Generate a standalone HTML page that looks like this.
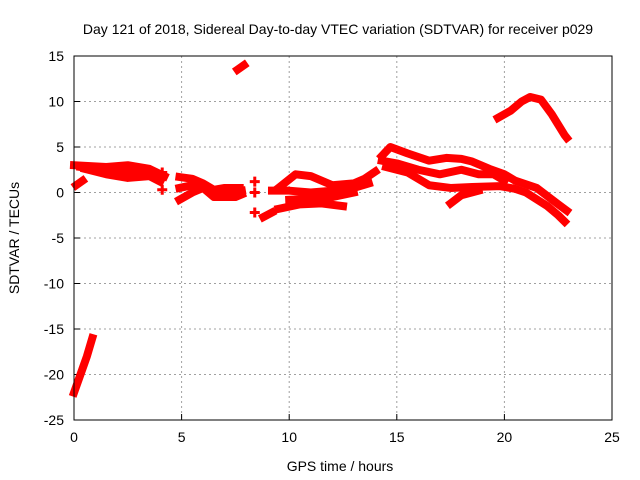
<!DOCTYPE html>
<html><head><meta charset="utf-8"><style>
body{margin:0;background:#fff}
svg{display:block;font-family:"Liberation Sans",sans-serif}
</style></head><body>
<svg id="c" width="640" height="480" xmlns="http://www.w3.org/2000/svg"></svg>
<script>
const xTicks=[0,5,10,15,20,25];
const yTicks=[-25,-20,-15,-10,-5,0,5,10,15];
const trackSteep=[[0,-22],[0.3,-20],[0.6,-18],[0.85,-16]];
const trackSmall=[[0.1,0.8],[0.4,1.3]];
const trackEarlyUpper=[[0,3],[1.5,2.8],[2.5,3],[3.5,2.6],[4.2,1.8]];
const trackEarlyMid=[[0.3,2.8],[1.5,2.4],[2.5,2.3],[3.5,2.2],[4,1.6]];
const trackEarlyLower=[[0.5,2.6],[1.5,2],[2.5,1.6],[3.5,1.8],[4,1.2]];
const trackMidUpper=[[4.9,1.7],[5.5,1.5],[6,1],[6.5,0.3],[7,0.5],[7.7,0.5]];
const trackMidCenter=[[4.9,0.5],[5.5,0.8],[6,0.6],[6.5,0],[7.3,0],[7.8,0.2]];
const trackMidLower=[[4.9,-0.8],[5.5,0],[6,0.5],[6.5,-0.5],[7.5,-0.5],[7.8,-0.2]];
const trackHigh=[[7.6,13.5],[7.9,14]];
const trackDipA=[[8.8,-2.7],[9.2,-2.2]];
const track10Upper=[[9.5,0.5],[10.3,2],[11,1.8],[12,0.8],[13,1],[13.5,1.5],[14,2.3]];
const track10Mid=[[9.2,0.2],[10,0.2],[11,0],[12,0.2],[13,0.5],[13.7,1]];
const track10Low=[[9.5,-1.8],[10.5,-1.3],[11.5,-1.2],[12.5,-1.5]];
const track10Low2=[[10,-0.8],[11,-0.7],[12,-0.5],[13,0]];
const track15Upper=[[14.3,4],[14.7,5],[15.5,4.3],[16.5,3.5],[17.3,3.8],[18,3.7],[18.5,3.4],[19.3,2.6],[20,2],[20.5,1.3],[21.5,0.5],[22.5,-1.3],[22.9,-2]];
const track15Mid=[[14.3,3.5],[15,3.2],[16,2.5],[17,2],[18,2.5],[18.8,2],[19.5,2],[20,1.3]];
const track15Low=[[14.5,2.8],[15.5,2.2],[16.5,0.8],[17.5,0.5],[18.5,0.6],[19.8,0.7],[20.5,0.4],[21,0],[22,-1.5],[22.5,-2.5],[22.8,-3.2]];
const track18Low=[[17.5,-1.2],[18,-0.3],[18.8,0.2]];
const trackArc=[[19.7,8.2],[20.3,9],[20.8,10],[21.2,10.5],[21.7,10.2],[22.2,8.6],[22.8,6.3],[22.9,6]];
const singles=[[4.1,2.2],[4.1,0.3],[8.4,1.2],[8.4,0],[8.4,-2.2]];
const tracks=[trackSteep,trackSmall,trackEarlyUpper,trackEarlyMid,trackEarlyLower,trackMidUpper,trackMidCenter,trackMidLower,trackHigh,trackDipA,track10Upper,track10Mid,track10Low,track10Low2,track15Upper,track15Mid,track15Low,track18Low,trackArc];

const L=74,R=612,T=56,B=420;
const X=h=>L+(h-0)/25*(R-L);
const Y=v=>T+(15-v)/40*(B-T);
const s=document.getElementById('c');
const NS='http://www.w3.org/2000/svg';
function mk(tag,at,txt){const e=document.createElementNS(NS,tag);for(const k in at)e.setAttribute(k,at[k]);if(txt!==undefined)e.textContent=txt;s.appendChild(e);return e;}
mk('rect',{x:0,y:0,width:640,height:480,fill:'#fff'});
xTicks.forEach(t=>{
  if(t>0&&t<25){const g=mk('line',{x1:X(t),x2:X(t),y1:T,y2:B,stroke:'#a0a0a0','stroke-dasharray':'2,3'});
  
  }
  const tk=mk('line',{x1:X(t),x2:X(t),y1:B,y2:B-6,stroke:'#000'});
  
  
  const lb=mk('text',{x:X(t),y:B+22,'text-anchor':'middle','font-size':14},t);
  
  
});
yTicks.forEach(t=>{
  if(t>-25&&t<15){const g=mk('line',{x1:L,x2:R,y1:Y(t),y2:Y(t),stroke:'#a0a0a0','stroke-dasharray':'2,3'});
  
  }
  const tk=mk('line',{x1:L,x2:L+6,y1:Y(t),y2:Y(t),stroke:'#000'});
  
  
  const lb=mk('text',{x:L-10,y:Y(t)+5,'text-anchor':'end','font-size':14},t);
  
  
});
tracks.forEach(tr=>{
  const p=mk('polyline',{points:tr.map(d=>X(d[0])+','+Y(d[1])).join(' '),fill:'none',stroke:'#f00','stroke-width':8,'stroke-linejoin':'round','stroke-linecap':'square'});
  
  
});
singles.forEach(d=>{
  const p=mk('path',{d:`M${X(d[0])-5},${Y(d[1])}h10M${X(d[0])},${Y(d[1])-5}v10`,stroke:'#f00','stroke-width':3});
  
  
});
const fr=mk('rect',{x:L,y:T,width:R-L,height:B-T,fill:'none',stroke:'#000','stroke-width':1});


const ti=mk('text',{x:338,y:34,'text-anchor':'middle','font-size':14},'Day 121 of 2018, Sidereal Day-to-day VTEC variation (SDTVAR) for receiver p029');


const xl=mk('text',{x:340,y:471,'text-anchor':'middle','font-size':14},'GPS time / hours');


const yl=mk('text',{x:0,y:0,'text-anchor':'middle','font-size':14,transform:'translate(19,238) rotate(-90)'},'SDTVAR / TECUs');


</script>
</body></html>
